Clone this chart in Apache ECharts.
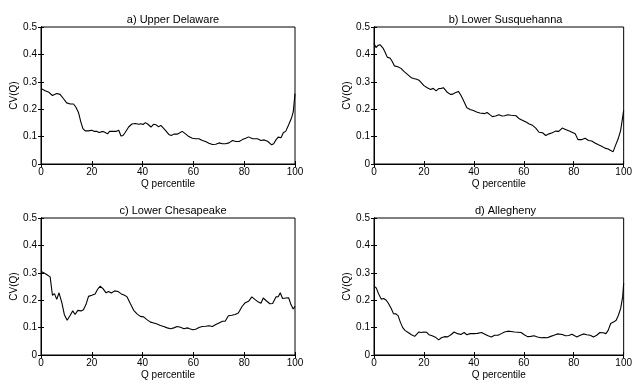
<!DOCTYPE html>
<html>
<head>
<meta charset="utf-8">
<script src="https://cdn.jsdelivr.net/npm/echarts@6/dist/echarts.min.js"></script>
<style>
html,body{margin:0;padding:0;background:#fff;}
#chart{width:635px;height:385px;}
</style>
</head>
<body>
<div id="chart"></div>
<script>
const panelTitles = ['a) Upper Delaware', 'b) Lower Susquehanna', 'c) Lower Chesapeake', 'd) Allegheny'];
const xTicks = [0, 20, 40, 60, 80, 100];
const yTicks = [0, 0.1, 0.2, 0.3, 0.4, 0.5];

const pctA = [0,1.6,2.9,3.6,4.5,6.2,7.5,8.8,10.1,11.5,12.8,13.7,14.8,15.7,16.5,17.4,18.7,20,21.1,22,22.9,23.5,24.4,25.3,26.2,27,28.2,29.5,30.6,31.5,32.3,33.2,34.5,35.8,37.2,38.5,39.4,40.2,41.1,42,43.3,44.3,45.3,46.3,47.2,47.9,49,50.3,51.3,52.3,53.6,54.5,55.6,56.9,58.2,59.6,60.9,62.2,63.5,64.8,66.1,67.5,68.8,70.1,71.4,72.7,74,75.4,76.7,78,79.3,80.6,81.7,83.3,85.2,86.6,87.9,89.2,89.9,90.8,91.6,92.5,93.4,94.5,95.4,96.4,97.5,98.7,99.3,100];
const cvA = [0.276,0.267,0.263,0.260,0.250,0.257,0.254,0.239,0.223,0.219,0.219,0.208,0.187,0.153,0.129,0.121,0.121,0.123,0.119,0.119,0.115,0.108,0.119,0.115,0.110,0.119,0.119,0.119,0.123,0.102,0.104,0.116,0.135,0.146,0.148,0.145,0.147,0.144,0.151,0.146,0.135,0.145,0.143,0.136,0.141,0.134,0.123,0.108,0.104,0.109,0.109,0.113,0.119,0.110,0.100,0.094,0.092,0.092,0.086,0.082,0.076,0.071,0.072,0.077,0.074,0.074,0.077,0.086,0.082,0.082,0.089,0.094,0.099,0.092,0.092,0.086,0.088,0.083,0.077,0.070,0.074,0.088,0.098,0.096,0.114,0.120,0.143,0.170,0.190,0.257];

const pctB = [0,0.8,1.6,2.5,3.6,4.5,5.3,6.5,7.2,8.2,9.5,10.8,12.1,13.4,14.8,15.8,17.1,18,18.7,20,21.3,22.7,23.7,24.9,25.9,26.9,27.9,29.2,30.6,31.6,32.5,33.8,34.8,35.8,37.2,38.5,39.8,41.1,42.4,44.4,45.3,46.4,47.4,48.7,50,51.3,52.3,53.6,54.9,56.9,58.2,59.6,60.9,62.2,63.5,64.8,66.1,67.5,68.8,70.1,71.4,72.7,74,75.4,76.7,78,79.3,80.6,81.7,83.3,84.6,85.9,87.2,88.5,89.9,91.2,92.5,93.8,94.8,95.8,96.7,97.8,98.8,100];
const cvB = [0.441,0.425,0.433,0.435,0.423,0.407,0.390,0.386,0.376,0.358,0.355,0.349,0.337,0.327,0.316,0.312,0.309,0.306,0.300,0.286,0.278,0.272,0.276,0.267,0.275,0.276,0.278,0.263,0.254,0.255,0.260,0.265,0.251,0.233,0.205,0.199,0.195,0.190,0.186,0.184,0.188,0.180,0.173,0.175,0.180,0.175,0.176,0.180,0.178,0.176,0.165,0.159,0.153,0.146,0.141,0.131,0.116,0.114,0.104,0.110,0.114,0.120,0.119,0.131,0.126,0.121,0.116,0.110,0.089,0.089,0.094,0.086,0.084,0.077,0.070,0.065,0.058,0.055,0.049,0.045,0.067,0.092,0.123,0.196];

const pctC = [0,0.9,2.2,3.6,4.5,5.3,6.2,7.1,8.2,9.2,10.3,11.5,12.5,13.4,14.5,15.8,16.7,17.7,18.7,20,21.3,22.3,23.3,24.4,25.6,26.6,27.7,29,30.3,31.6,32.9,33.9,35.2,36.5,37.8,39.1,40.4,41.7,43.1,44.4,45.7,47,48.3,49.7,51,52.3,53.6,54.9,56.3,57.6,58.5,59.8,60.9,62.2,63.5,64.8,66.1,67.5,68.8,70.1,71.4,72.5,73.8,75.1,76.4,77.7,79.1,80.4,81.7,83,84.3,85.6,86.6,87.5,88.8,90.1,91.2,92.5,93.4,94.2,95.1,96.4,97.5,98.4,99.3,100];
const cvC = [0.305,0.301,0.294,0.285,0.218,0.224,0.203,0.227,0.191,0.147,0.127,0.145,0.161,0.148,0.163,0.161,0.165,0.184,0.214,0.218,0.223,0.240,0.251,0.242,0.227,0.232,0.226,0.234,0.232,0.223,0.218,0.212,0.187,0.163,0.150,0.141,0.139,0.129,0.120,0.117,0.113,0.108,0.104,0.099,0.096,0.099,0.104,0.101,0.096,0.099,0.096,0.092,0.094,0.100,0.104,0.105,0.107,0.104,0.111,0.117,0.123,0.123,0.143,0.145,0.148,0.153,0.176,0.191,0.196,0.212,0.202,0.193,0.189,0.208,0.197,0.187,0.188,0.212,0.213,0.227,0.206,0.208,0.209,0.184,0.168,0.178];

const pctD = [0,0.9,1.8,2.9,3.9,4.9,5.8,6.9,7.8,8.8,9.7,10.5,11.5,12.5,13.7,15,16.3,17.1,18,18.9,20,21.1,22,23.3,24.6,25.9,27,28.2,29.5,30.8,32.1,33.5,34.8,36.1,37.2,38.5,39.8,41.4,43.1,44.4,45.7,47,48.3,49.7,51,52.3,53.6,54.9,56.3,57.6,58.9,60.2,61.5,62.8,64.1,65.5,66.8,68.1,69.4,70.8,72.1,73.4,74,75.4,76.7,78,79.3,80.4,81.3,82.2,83,83.9,85.2,86.6,87.9,89.2,90.5,91.8,92.9,93.8,94.8,96.1,97,97.9,98.8,99.6,100];
const cvD = [0.251,0.245,0.224,0.204,0.206,0.200,0.188,0.170,0.151,0.150,0.143,0.121,0.100,0.089,0.082,0.074,0.068,0.067,0.084,0.082,0.084,0.083,0.074,0.070,0.065,0.055,0.063,0.067,0.066,0.074,0.084,0.078,0.075,0.082,0.074,0.078,0.078,0.079,0.082,0.076,0.070,0.066,0.072,0.072,0.078,0.084,0.087,0.086,0.084,0.083,0.082,0.074,0.067,0.068,0.070,0.066,0.063,0.064,0.063,0.068,0.072,0.077,0.080,0.075,0.070,0.071,0.076,0.070,0.066,0.070,0.063,0.077,0.074,0.072,0.066,0.072,0.082,0.081,0.078,0.090,0.115,0.121,0.127,0.145,0.170,0.212,0.261];

const xsAll = [pctA, pctB, pctC, pctD];
const ysAll = [cvA, cvB, cvC, cvD];

const FONT = "'Liberation Sans', Arial, Helvetica, sans-serif";
const grids = [
  {left: 41, top: 27, width: 254, height: 137},
  {left: 374, top: 27, width: 253, height: 137},
  {left: 41, top: 218, width: 254, height: 137},
  {left: 374, top: 218, width: 253, height: 137}
];

const option = {
  animation: false,
  backgroundColor: '#fff',
  title: [], grid: [], xAxis: [], yAxis: [], series: []
};

grids.forEach((g, i) => {
  option.grid.push(Object.assign({show: true, borderColor: '#000', borderWidth: 1, backgroundColor: '#fff'}, g));
  option.title.push({
    text: panelTitles[i],
    left: g.left + g.width / 2,
    top: g.top - 18,
    textAlign: 'center',
    textStyle: {fontFamily: FONT, fontSize: 11, fontWeight: 'normal', color: '#000'}
  });
  const baseX = {
    type: 'value', gridIndex: i, min: 0, max: 100, interval: 20,
    axisLine: {show: true, lineStyle: {color: '#000', width: 1}},
    axisTick: {show: true, inside: true, length: 3, lineStyle: {color: '#000'}},
    splitLine: {show: false}
  };
  option.xAxis.push(Object.assign({}, baseX, {
    position: 'bottom',
    name: 'Q percentile', nameLocation: 'middle', nameGap: 15,
    nameTextStyle: {fontFamily: FONT, fontSize: 10, color: '#000'},
    axisLabel: {fontFamily: FONT, fontSize: 10, color: '#000', margin: 3,
      formatter: v => xTicks.includes(v) ? String(v) : ''}
  }));
  option.xAxis.push(Object.assign({}, baseX, {position: 'top', axisLabel: {show: false}}));
  const baseY = {
    type: 'value', gridIndex: i, min: 0, max: 0.5, interval: 0.1,
    axisLine: {show: true, lineStyle: {color: '#000', width: 1}},
    axisTick: {show: true, inside: true, length: 3, lineStyle: {color: '#000'}},
    splitLine: {show: false}
  };
  option.yAxis.push(Object.assign({}, baseY, {
    position: 'left',
    name: 'CV(Q)', nameLocation: 'middle', nameGap: 22, nameRotate: 90,
    nameTextStyle: {fontFamily: FONT, fontSize: 10, color: '#000'},
    axisLabel: {fontFamily: FONT, fontSize: 10, color: '#000', margin: 4,
      formatter: v => { const t = yTicks.find(y => Math.abs(y - v) < 1e-9); return t === undefined ? '' : (t === 0 ? '0' : t.toFixed(1)); }}
  }));
  option.yAxis.push(Object.assign({}, baseY, {position: 'right', axisLabel: {show: false}}));
  option.series.push({
    type: 'line',
    xAxisIndex: i * 2, yAxisIndex: i * 2,
    data: xsAll[i].map((x, k) => [x, ysAll[i][k]]),
    showSymbol: false, symbol: 'none',
    lineStyle: {color: '#000', width: 1.1},
    clip: true
  });
});

const chart = echarts.init(document.getElementById('chart'), null, {renderer: 'canvas'});
chart.setOption(option);
</script>
</body>
</html>
